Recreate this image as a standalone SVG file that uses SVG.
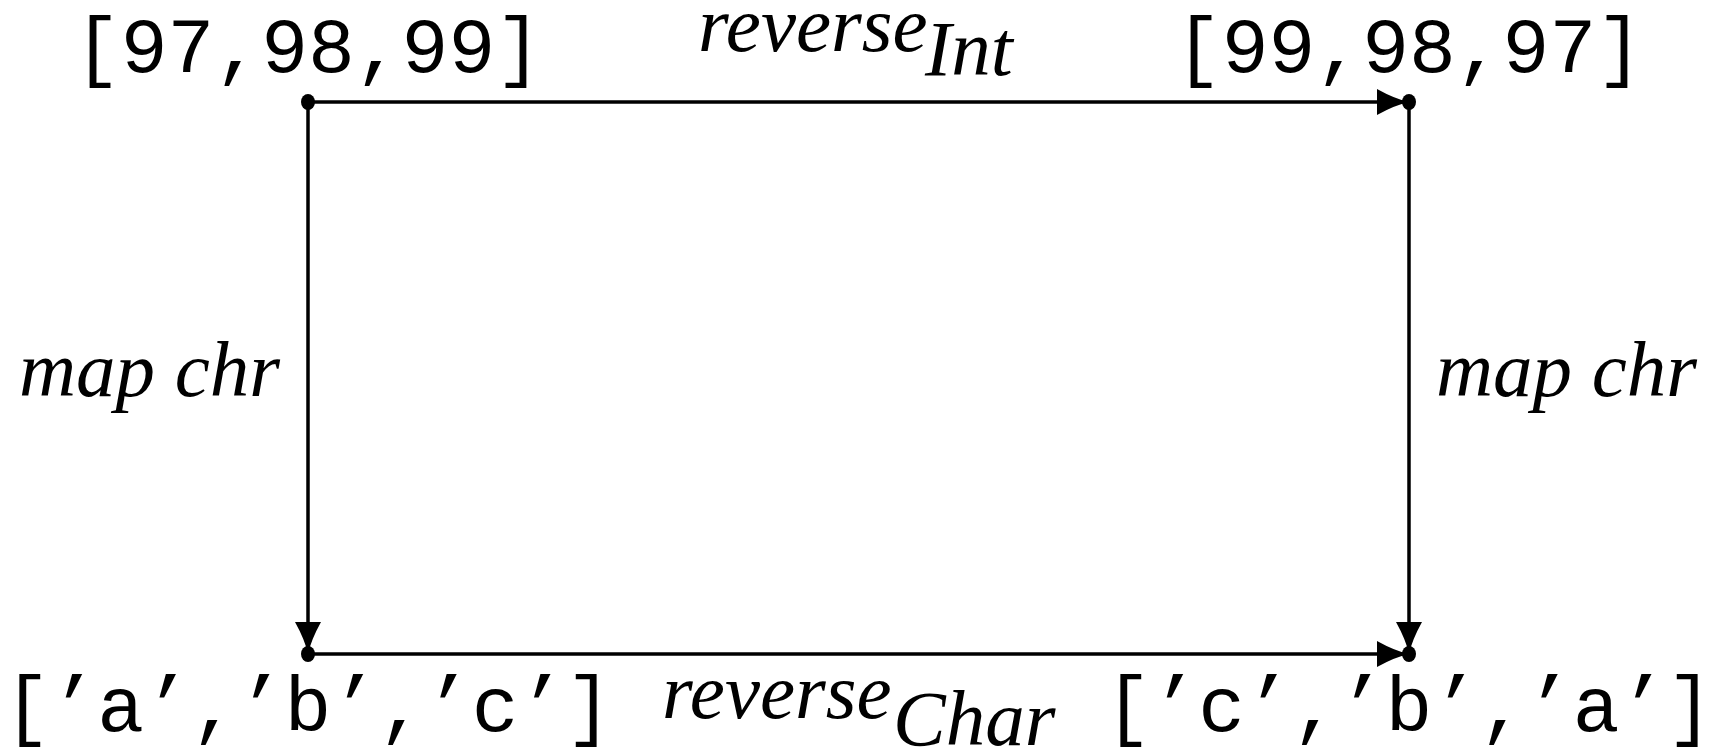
<svg xmlns="http://www.w3.org/2000/svg" width="1717" height="748" viewBox="0 0 1717 748">
  <style>
    .val { font-family: "Liberation Mono", "Courier New", monospace; font-size: 78px; fill: #000; text-anchor: middle; }
    .fn { font-family: "Liberation Serif", "Times New Roman", serif; font-style: italic; font-size: 79px; fill: #000; }
    .edge { stroke: #000; stroke-width: 3.5; fill: none; marker-end: url(#head); }
    .dot { fill: #000; }
  </style>
  <defs>
    <!-- concave-sided arrowhead, tip at the origin -->
    <marker id="head" markerUnits="userSpaceOnUse" viewBox="-34 -15 36 30" markerWidth="36" markerHeight="30" refX="0" refY="0" orient="auto">
      <path d="M0,0 Q-14,-3 -32,-13 L-32,13 Q-14,3 0,0 Z" fill="#000"/>
    </marker>
  </defs>

  <g id="connectors">
    <line class="edge" x1="308" y1="102" x2="1409" y2="102"/>
    <line class="edge" x1="308" y1="102" x2="308" y2="654"/>
    <line class="edge" x1="1409" y1="102" x2="1409" y2="654"/>
    <line class="edge" x1="308" y1="654" x2="1409" y2="654"/>
    <text class="fn" x="698" y="51">reverse<tspan x="925" y="75">Int</tspan></text>
    <text class="fn" x="662" y="718">reverse<tspan x="893" y="745">Char</tspan></text>
    <text class="fn" x="280" y="396" text-anchor="end">map chr</text>
    <text class="fn" x="1436" y="396">map chr</text>
  </g>

  <g id="node-ints">
    <ellipse class="dot" cx="308" cy="102" rx="7" ry="8"/>
    <text class="val" x="308" y="72">[97,98,99]</text>
  </g>
  <g id="node-ints-reversed">
    <ellipse class="dot" cx="1409" cy="102" rx="7" ry="8"/>
    <text class="val" x="1409" y="72">[99,98,97]</text>
  </g>
  <g id="node-chars">
    <ellipse class="dot" cx="308" cy="654" rx="7" ry="8"/>
    <text class="val" x="308" y="731">[’a’,’b’,’c’]</text>
  </g>
  <g id="node-chars-reversed">
    <ellipse class="dot" cx="1409" cy="654" rx="7" ry="8"/>
    <text class="val" x="1409" y="731">[’c’,’b’,’a’]</text>
  </g>
</svg>
